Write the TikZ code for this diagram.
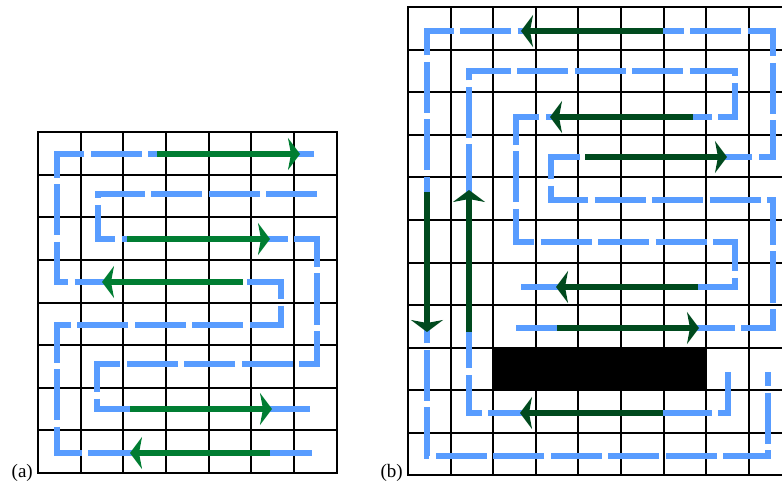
\documentclass[tikz,border=0pt]{standalone}
\usepackage{fontspec}
\setmainfont{Liberation Serif}
\usetikzlibrary{arrows.meta}
\definecolor{pathblue}{RGB}{88,156,255}
\definecolor{greenA}{RGB}{0,125,50}
\definecolor{greenB}{RGB}{0,74,30}
\begin{document}
\begin{tikzpicture}[x=1pt,y=-1pt,
  gridline/.style={line width=2pt, black},
  gridborder/.style={line width=2.6pt, black},
  route/.style={pathblue, line width=6pt, dash pattern=on 51pt off 6.5pt},
  moveA/.style={greenA, line width=6.5pt, -{Stealth[length=12pt,width=32pt,inset=3pt]}},
  moveB/.style={greenB, line width=6.5pt, -{Stealth[length=12pt,width=32pt,inset=3pt]}},
  caption/.style={font=\fontsize{19}{19}\selectfont, anchor=base east, inner sep=0pt}
]
\useasboundingbox (0,0) rectangle (782,481);
\clip (0,0) rectangle (782,481);

% ---------- grid (a) ----------
\foreach \x in {81,123,166,209,251,294} \draw[gridline] (\x,132) -- (\x,473);
\foreach \y in {175,217,260,303,345,388,430} \draw[gridline] (38,\y) -- (337,\y);
\draw[gridborder] (38,132) rectangle (337,473);

% ---------- grid (b) ----------
\fill[black] (493,348) rectangle (706,390);
\foreach \x in {451,493,536,578,621,664,706,749,791} \draw[gridline] (\x,7) -- (\x,475);
\foreach \y in {50,92,135,177,220,263,305,348,390,433} \draw[gridline] (408,\y) -- (795,\y);
\draw[gridborder] (408,7) rectangle (791,475);

% ---------- route (a) ----------
\coordinate (a1) at (314,154);
\coordinate (a2) at (57,154);
\coordinate (a3) at (57,282);
\coordinate (a4) at (281,282);
\coordinate (a5) at (281,325);
\coordinate (a6) at (57,325);
\coordinate (a7) at (57,453);
\coordinate (a8) at (315,453);
\draw[route] (a1) -- (a2) -- (a3) -- (a4) -- (a5) -- (a6) -- (a7) -- (a8);

\coordinate (b1) at (317,194);
\coordinate (b2) at (98,194);
\coordinate (b3) at (98,239);
\coordinate (b4) at (317,239);
\coordinate (b5) at (317,364);
\coordinate (b6) at (97,364);
\coordinate (b7) at (97,409);
\coordinate (b8) at (315,409);
\draw[route] (b1) -- (b2) -- (b3) -- (b4) -- (b5) -- (b6) -- (b7) -- (b8);

% green moves (a)
\coordinate (ga1s) at (157,154); \coordinate (ga1e) at (300,154);
\coordinate (ga2s) at (127,239); \coordinate (ga2e) at (270,239);
\coordinate (ga3s) at (243,282); \coordinate (ga3e) at (102,282);
\coordinate (ga4s) at (130,409); \coordinate (ga4e) at (272,409);
\coordinate (ga5s) at (270,453); \coordinate (ga5e) at (130,453);
\draw[moveA] (ga1s) -- (ga1e);
\draw[moveA] (ga2s) -- (ga2e);
\draw[moveA] (ga3s) -- (ga3e);
\draw[moveA] (ga4s) -- (ga4e);
\draw[moveA] (ga5s) -- (ga5e);

% ---------- route (b) ----------
\coordinate (c1) at (728,372);
\coordinate (c2) at (728,413);
\coordinate (c3) at (469,413);
\coordinate (c4) at (469,71);
\coordinate (c5) at (735,71);
\coordinate (c6) at (735,117);
\coordinate (c7) at (516,117);
\coordinate (c8) at (516,242);
\coordinate (c9) at (735,242);
\coordinate (c10) at (735,287);
\coordinate (c11) at (516,287);
\draw[route] (c1) -- (c2) -- (c3) -- (c4) -- (c5) -- (c6) -- (c7) -- (c8) -- (c9) -- (c10) -- (c11);

\coordinate (d1) at (768,372);
\coordinate (d2) at (768,456);
\coordinate (d3) at (427,456);
\coordinate (d4) at (427,31);
\coordinate (d5) at (773,31);
\coordinate (d6) at (773,157);
\coordinate (d7) at (551,157);
\coordinate (d8) at (551,200);
\coordinate (d9) at (773,200);
\coordinate (d10) at (773,328);
\coordinate (d11) at (516,328);
\draw[route, dash phase=37pt] (d1) -- (d2) -- (d3) -- (d4) -- (d5) -- (d6) -- (d7) -- (d8) -- (d9) -- (d10) -- (d11);

% green moves (b)
\coordinate (gb1s) at (663,31);  \coordinate (gb1e) at (521,31);
\coordinate (gb2s) at (693,117); \coordinate (gb2e) at (550,117);
\coordinate (gb3s) at (585,157); \coordinate (gb3e) at (727,157);
\coordinate (gb4s) at (698,287); \coordinate (gb4e) at (556,287);
\coordinate (gb5s) at (557,328); \coordinate (gb5e) at (699,328);
\coordinate (gb6s) at (663,413); \coordinate (gb6e) at (520,413);
\coordinate (gb7s) at (427,192); \coordinate (gb7e) at (427,332);
\coordinate (gb8s) at (469,332); \coordinate (gb8e) at (469,190);
\draw[moveB] (gb1s) -- (gb1e);
\draw[moveB] (gb2s) -- (gb2e);
\draw[moveB] (gb3s) -- (gb3e);
\draw[moveB] (gb4s) -- (gb4e);
\draw[moveB] (gb5s) -- (gb5e);
\draw[moveB] (gb6s) -- (gb6e);
\draw[moveB] (gb7s) -- (gb7e);
\draw[moveB] (gb8s) -- (gb8e);

% ---------- captions ----------
\node[caption] (capA) at (33,477) {(a)};
\node[caption] (capB) at (403,477) {(b)};
\end{tikzpicture}
\end{document}
